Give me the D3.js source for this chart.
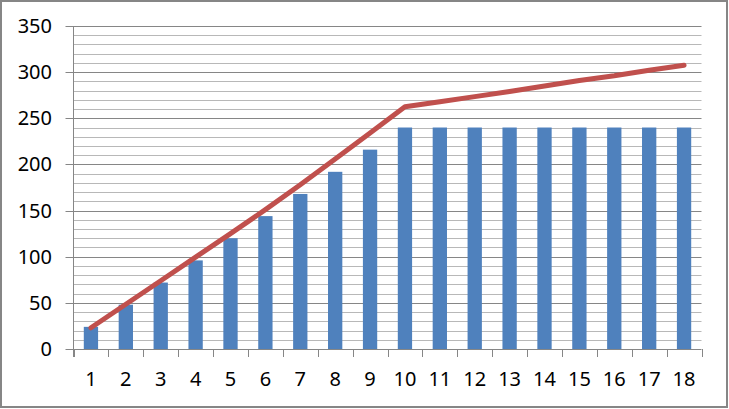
<!DOCTYPE html>
<html><head><meta charset="utf-8">
<script src="https://cdn.jsdelivr.net/npm/d3@7"></script>
<style>html,body{margin:0;padding:0;background:#fff;}svg{display:block;}</style>
</head><body>
<svg id="c" width="729" height="409"></svg>
<script>
const categories = ["1","2","3","4","5","6","7","8","9","10","11","12","13","14","15","16","17","18"];
const barValues = [24,48,72,96,120,144,168,192,216,240,240,240,240,240,240,240,240,240];
const lineValues = [23,48.5,74,99.5,125,151,178,206,234,262.5,268,273.5,279,285,291,296,302,307.5];
const yTicks = [0,50,100,150,200,250,300,350];
const minorTicks = d3.range(10,350,10).filter(v => v % 50 !== 0);

const svg = d3.select("#c");
const L = 73.5, R = 701.5, T = 26, B = 349;
const x = d3.scaleBand().domain(categories).range([L, R]).paddingInner(0.59).paddingOuter(0.295);
const xs = d3.scaleBand().domain(categories).range([L, R]).padding(0);
const y = d3.scaleLinear().domain([0, 350]).range([B, T]);

svg.append("rect").attr("x",0).attr("y",0).attr("width",729).attr("height",409).attr("fill","#fff");
svg.append("rect").attr("x",1).attr("y",1).attr("width",726).attr("height",406)
  .attr("fill","none").attr("stroke","#868686").attr("stroke-width",2);

// minor gridlines
svg.append("g").selectAll("line").data(minorTicks).join("line")
  .attr("x1",L).attr("x2",R).attr("y1",d=>Math.round(y(d))+0.5).attr("y2",d=>Math.round(y(d))+0.5)
  .attr("stroke","#b8b8b8").attr("stroke-width",1);
// major gridlines with ticks
svg.append("g").selectAll("line").data(yTicks).join("line")
  .attr("x1",L-8).attr("x2",R).attr("y1",d=>Math.round(y(d))+0.5).attr("y2",d=>Math.round(y(d))+0.5)
  .attr("stroke","#868686").attr("stroke-width",1);

// y axis line
svg.append("line").attr("x1",L).attr("x2",L).attr("y1",T).attr("y2",B+8)
  .attr("stroke","#868686").attr("stroke-width",1);

// x ticks at category boundaries
const bounds = categories.map(c => xs(c)).concat([R]);
svg.append("g").selectAll("line").data(bounds).join("line")
  .attr("x1",d=>Math.round(d)+0.5).attr("x2",d=>Math.round(d)+0.5).attr("y1",B).attr("y2",B+8)
  .attr("stroke","#868686").attr("stroke-width",1);

// bars
svg.append("g").selectAll("rect").data(barValues).join("rect")
  .attr("x",(d,i)=>x(categories[i])).attr("width",x.bandwidth())
  .attr("y",d=>y(d)).attr("height",d=>B-y(d)).attr("fill","#4F81BD");

// line
const line = d3.line().x((d,i)=>xs(categories[i])+xs.bandwidth()/2).y(d=>y(d));
svg.append("path").datum(lineValues).attr("d",line).attr("fill","none")
  .attr("stroke","#C0504D").attr("stroke-width",5).attr("stroke-linejoin","round").attr("stroke-linecap","round");

// y labels
svg.append("g").selectAll("text").data(yTicks).join("text")
  .attr("x",52).attr("y",d=>y(d)).attr("dy","0.35em").attr("text-anchor","end")
  .attr("font-family","'Noto Sans', sans-serif").attr("font-size",20).attr("fill","#000")
  .text(d=>d);
// x labels
svg.append("g").selectAll("text").data(categories).join("text")
  .attr("x",d=>xs(d)+xs.bandwidth()/2).attr("y",379).attr("dy","0.35em").attr("text-anchor","middle")
  .attr("font-family","'Noto Sans', sans-serif").attr("font-size",20).attr("fill","#000")
  .text(d=>d);
</script>
</body></html>
